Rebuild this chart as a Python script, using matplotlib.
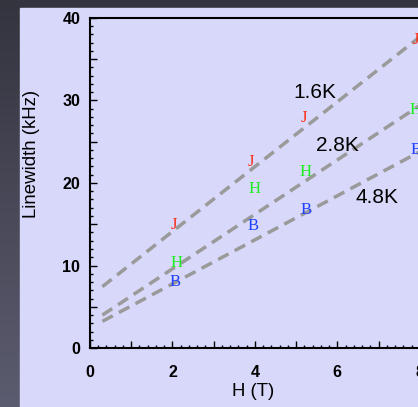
import numpy as np
import matplotlib
matplotlib.use("Agg")
import matplotlib.pyplot as plt
from matplotlib.patches import Rectangle
from matplotlib.ticker import MultipleLocator, FuncFormatter

# measured linewidths (kHz) vs field H (T), one letter per sample
field_J = [2.04, 3.9, 5.2, 7.9]
width_J = [14.9, 22.5, 27.9, 37.3]
field_H = [2.09, 3.98, 5.24, 7.9]
width_H = [10.3, 19.3, 21.3, 28.9]
field_B = [2.06, 3.96, 5.24, 7.9]
width_B = [8.0, 14.8, 16.7, 24.0]

# linear fits for each temperature: (slope, intercept)
temps = ["1.6K", "2.8K", "4.8K"]
fit_slope = [3.93, 3.30, 2.67]
fit_icpt = [6.26, 3.0, 2.43]
fit_x = [0.3, 9.0]
temp_label_pos = [(5.46, 31.0), (6.0, 24.6), (6.97, 18.3)]

W, H = 418, 407
fig = plt.figure(figsize=(W / 100, H / 100), dpi=100)

# dark slide background with a soft vertical gradient
bg = fig.add_axes([0, 0, 1, 1], zorder=-10)
grad = np.linspace(0, 1, 256).reshape(-1, 1)
bg.imshow(grad, aspect="auto", extent=[0, 1, 0, 1], origin="upper",
          cmap=matplotlib.colors.LinearSegmentedColormap.from_list(
              "bg", ["#34343f", "#5c5c70"]))
bg.add_patch(Rectangle((20 / W, 0), 1, (H - 8) / H, color="#d8d8fa",
                       transform=bg.transAxes))
bg.set_xlim(0, 1)
bg.set_ylim(0, 1)
bg.axis("off")

ax = fig.add_axes([90 / W, 59 / H, 371 / W, 330 / H])
ax.patch.set_alpha(0)

xs = np.array(fit_x)
for m, b in zip(fit_slope, fit_icpt):
    ax.plot(xs, m * xs + b, color="#9a9a9a", lw=2.5, dashes=(3.4, 2.0),
            solid_capstyle="butt")

serif = dict(family="Liberation Serif", fontsize=12, ha="center", va="center")
for xs_, ys_, letter, col in [(field_J, width_J, "J", "#ff2a10"),
                              (field_H, width_H, "H", "#18ee18"),
                              (field_B, width_B, "B", "#2040ff")]:
    for x, y in zip(xs_, ys_):
        ax.text(x, y, letter, color=col, **serif)

for t, (x, y) in zip(temps, temp_label_pos):
    ax.text(x, y, t, family="Liberation Sans", fontsize=15,
            ha="center", va="center", color="black")

ax.set_xlim(0, 9)
ax.set_ylim(0, 40)
ax.xaxis.set_major_locator(MultipleLocator(1))
ax.xaxis.set_minor_locator(MultipleLocator(0.2))
ax.xaxis.set_major_formatter(FuncFormatter(
    lambda v, p: "%d" % v if int(round(v)) % 2 == 0 else ""))
ax.yaxis.set_major_locator(MultipleLocator(5))
ax.yaxis.set_minor_locator(MultipleLocator(1))
ax.yaxis.set_major_formatter(FuncFormatter(
    lambda v, p: "%d" % v if int(round(v)) % 10 == 0 else ""))

ax.tick_params(which="both", direction="in", width=1.0,
               top=False, right=False)
ax.tick_params(which="major", length=5)
ax.tick_params(which="minor", length=2.5)
ax.tick_params(axis="x", pad=12)
ax.tick_params(axis="y", pad=7)
for lab in ax.get_xticklabels() + ax.get_yticklabels():
    lab.set_family("Liberation Sans")
    lab.set_fontweight("bold")
    lab.set_fontsize(11.5)

for s in ax.spines.values():
    s.set_linewidth(1.5)

ax.set_ylabel("Linewidth (kHz)", family="Liberation Sans", fontsize=13.4)
ax.yaxis.set_label_coords(-0.135, 0.588)
ax.set_xlabel("H (T)", family="Liberation Sans", fontsize=13.4)
ax.xaxis.set_label_coords(0.44, -0.106)

fig.savefig("out.png", dpi=100)
